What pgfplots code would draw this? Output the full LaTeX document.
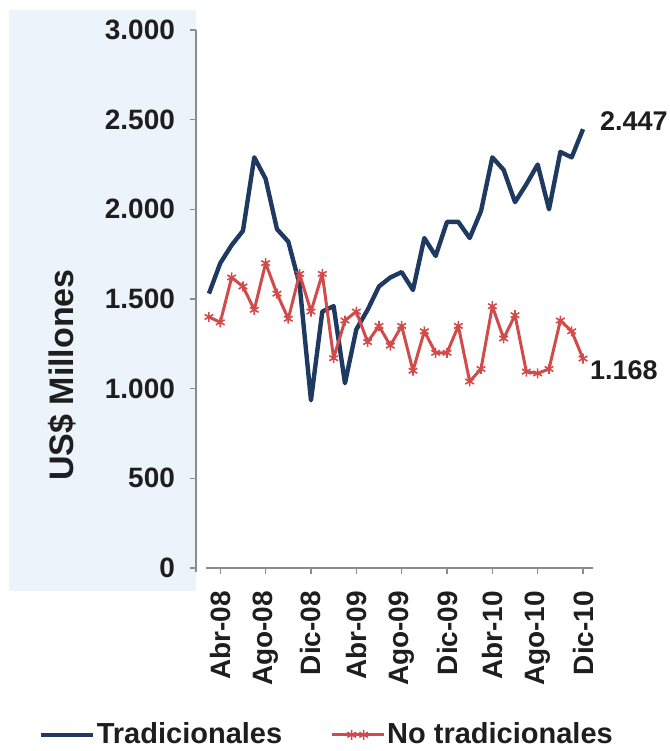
\documentclass[border=0pt]{standalone}
\usepackage{fontspec}
\setmainfont{Liberation Sans}
\usepackage{pgfplots}
\usepackage{pgfplotstable}
\pgfplotsset{compat=1.18}

\definecolor{tradblue}{HTML}{1F3A60}
\definecolor{notradred}{HTML}{D24B4B}
\definecolor{panelblue}{HTML}{EDF3FA}
\definecolor{axisgray}{HTML}{8C8C8C}
\definecolor{txt}{HTML}{1E1E1E}

% Monthly exports, US$ millions; idx 0 = Mar-08 ... idx 33 = Dic-10
\pgfplotstableread{
idx trad notrad
0  1530 1400
1  1700 1370
2  1800 1620
3  1880 1570
4  2290 1440
5  2170 1700
6  1890 1530
7  1820 1390
8  1580 1640
9  935  1430
10 1430 1640
11 1460 1170
12 1030 1380
13 1330 1430
14 1440 1260
15 1570 1350
16 1620 1240
17 1650 1350
18 1550 1100
19 1840 1320
20 1740 1200
21 1930 1200
22 1930 1350
23 1840 1040
24 1990 1110
25 2290 1460
26 2220 1280
27 2040 1410
28 2140 1095
29 2250 1085
30 2000 1110
31 2320 1380
32 2290 1320
33 2447 1168
}\exports

\begin{document}
\begin{tikzpicture}
\useasboundingbox (-103pt,-91.5pt) rectangle (232pt,284pt);
\fill[panelblue] (-98.5pt,-11.5pt) rectangle (-5pt,279pt);
\begin{axis}[
  at={(0,0)}, anchor=south west,
  scale only axis, width=193.5pt, height=269pt,
  xmin=-0.26, xmax=33.88, ymin=0, ymax=3000,
  axis x line*=bottom, axis y line*=left,
  axis line style={axisgray, line width=0.8pt},
  y axis line style={xshift=-5pt, shorten <=-2pt},
  xtick={1,5,...,33},
  xticklabels={Abr-08,Ago-08,Dic-08,Abr-09,Ago-09,Dic-09,Abr-10,Ago-10,Dic-10},
  ytick={0,500,...,3000},
  yticklabels={0,500,1.000,1.500,2.000,2.500,3.000},
  tick align=outside, major tick length=3pt,
  tick style={axisgray, line width=0.6pt},
  ytick style={xshift=-5pt},
  ticklabel style={font=\fontsize{14}{16}\selectfont\bfseries, text=txt},
  yticklabel style={xshift=-9pt},
  xticklabel style={rotate=90, anchor=east},
  xticklabel shift=5pt,
  clip=false,
  legend columns=2,
  legend cell align=left,
  legend style={at={(-0.434,-0.310)}, anchor=west, draw=none, fill=none,
    inner sep=0pt, nodes={inner sep=1pt, text=txt},
    font=\fontsize{14.5}{16}\selectfont\bfseries,
    /tikz/every even column/.append style={column sep=23pt}},
  legend image code/.code={
    \draw[#1, mark=none] (0pt,0pt) -- (26pt,0pt);
    \draw[#1] plot[only marks] coordinates {(10pt,0pt) (16pt,0pt)};
  },
]
\addplot[tradblue, line width=2.2pt, line join=round] table[x=idx, y=trad] {\exports};
\addlegendentry{Tradicionales}
\addplot[notradred, line width=1.5pt, line join=round, mark=asterisk, mark size=2.5pt,
  mark options={line width=0.8pt, solid}] table[x=idx, y=notrad] {\exports};
\addlegendentry{No tradicionales}
\node[anchor=west, font=\fontsize{13.5}{15}\selectfont\bfseries, text=txt]
  at (axis cs:33,2447) [xshift=5pt, yshift=4pt] {2.447};
\node[anchor=west, font=\fontsize{13.5}{15}\selectfont\bfseries, text=txt]
  at (axis cs:33,1168) [xshift=0pt, yshift=-6pt] {1.168};
\end{axis}
\node[rotate=90, font=\fontsize{17}{19}\selectfont\bfseries, text=txt]
  at (-72pt,96.5pt) {US\$ Millones};
\end{tikzpicture}
\end{document}
